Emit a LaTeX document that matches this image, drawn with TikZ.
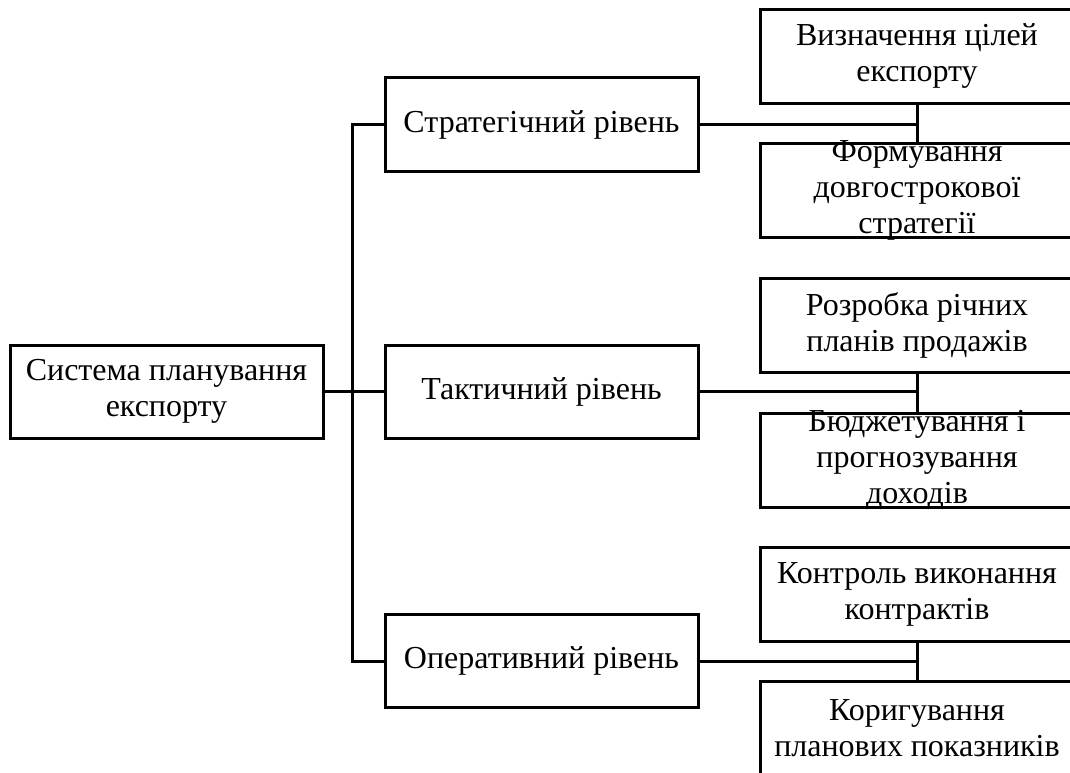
\documentclass[tikz,border=0pt]{standalone}
\usepackage{fontspec}
\setmainfont{Liberation Serif}
\begin{document}
\begin{tikzpicture}[x=1pt,y=-1pt,
  box/.style={draw=black,line width=3pt,fill=white,rectangle,inner sep=0pt},
  leftbox/.style={box,minimum width=313pt,minimum height=93pt},
  midbox/.style={box,minimum width=313pt,minimum height=93pt},
  rightbox/.style={box,minimum width=314pt,minimum height=94pt},
  txt/.style={align=center,inner sep=0pt,font=\fontsize{32}{36}\selectfont},
  wire/.style={draw=black,line width=3pt}]
\useasboundingbox (0,0) rectangle (1070,773);
\clip (0,0) rectangle (1070,773);

% root
\node[leftbox] (sys) at (166.5,391.5) {};
\node[txt] (sysT) at (sys) {Система планування\\експорту};

% levels
\node[midbox] (str) at (541.5,124.5) {};
\node[txt] (strT) at (str) {Стратегічний рівень};
\node[midbox] (tac) at (541.5,391.5) {};
\node[txt] (tacT) at (tac) {Тактичний рівень};
\node[midbox] (op) at (541.5,661) {};
\node[txt] (opT) at (op) {Оперативний рівень};

% tasks
\node[rightbox] (s1) at (917,56.5) {};
\node[txt] (s1T) at (s1) {Визначення цілей\\експорту};
\node[rightbox] (s2) at (917,190.5) {};
\node[txt] (s2T) at (s2) {Формування\\довгострокової\\стратегії};
\node[rightbox] (t1) at (917,325) {};
\node[txt] (t1T) at (t1) {Розробка річних\\планів продажів};
\node[rightbox] (t2) at (917,460) {};
\node[txt] (t2T) at (t2) {Бюджетування і\\прогнозування\\доходів};
\node[rightbox] (o1) at (917,594) {};
\node[txt] (o1T) at (o1) {Контроль виконання\\контрактів};
\node[rightbox] (o2) at (917,728) {};
\node[txt] (o2T) at (o2) {Коригування\\планових показників};

% connectors
\draw[wire] (sys.east) -- (tac.west);
\draw[wire] (str.west) -- ++(-31,0) |- (op.west);
\draw[wire] (str.east) -- (str.east -| s1.south);
\draw[wire] (s1.south) -- (s2.north);
\draw[wire] (tac.east) -- (tac.east -| t1.south);
\draw[wire] (t1.south) -- (t2.north);
\draw[wire] (op.east) -- (op.east -| o1.south);
\draw[wire] (o1.south) -- (o2.north);
\end{tikzpicture}
\end{document}
